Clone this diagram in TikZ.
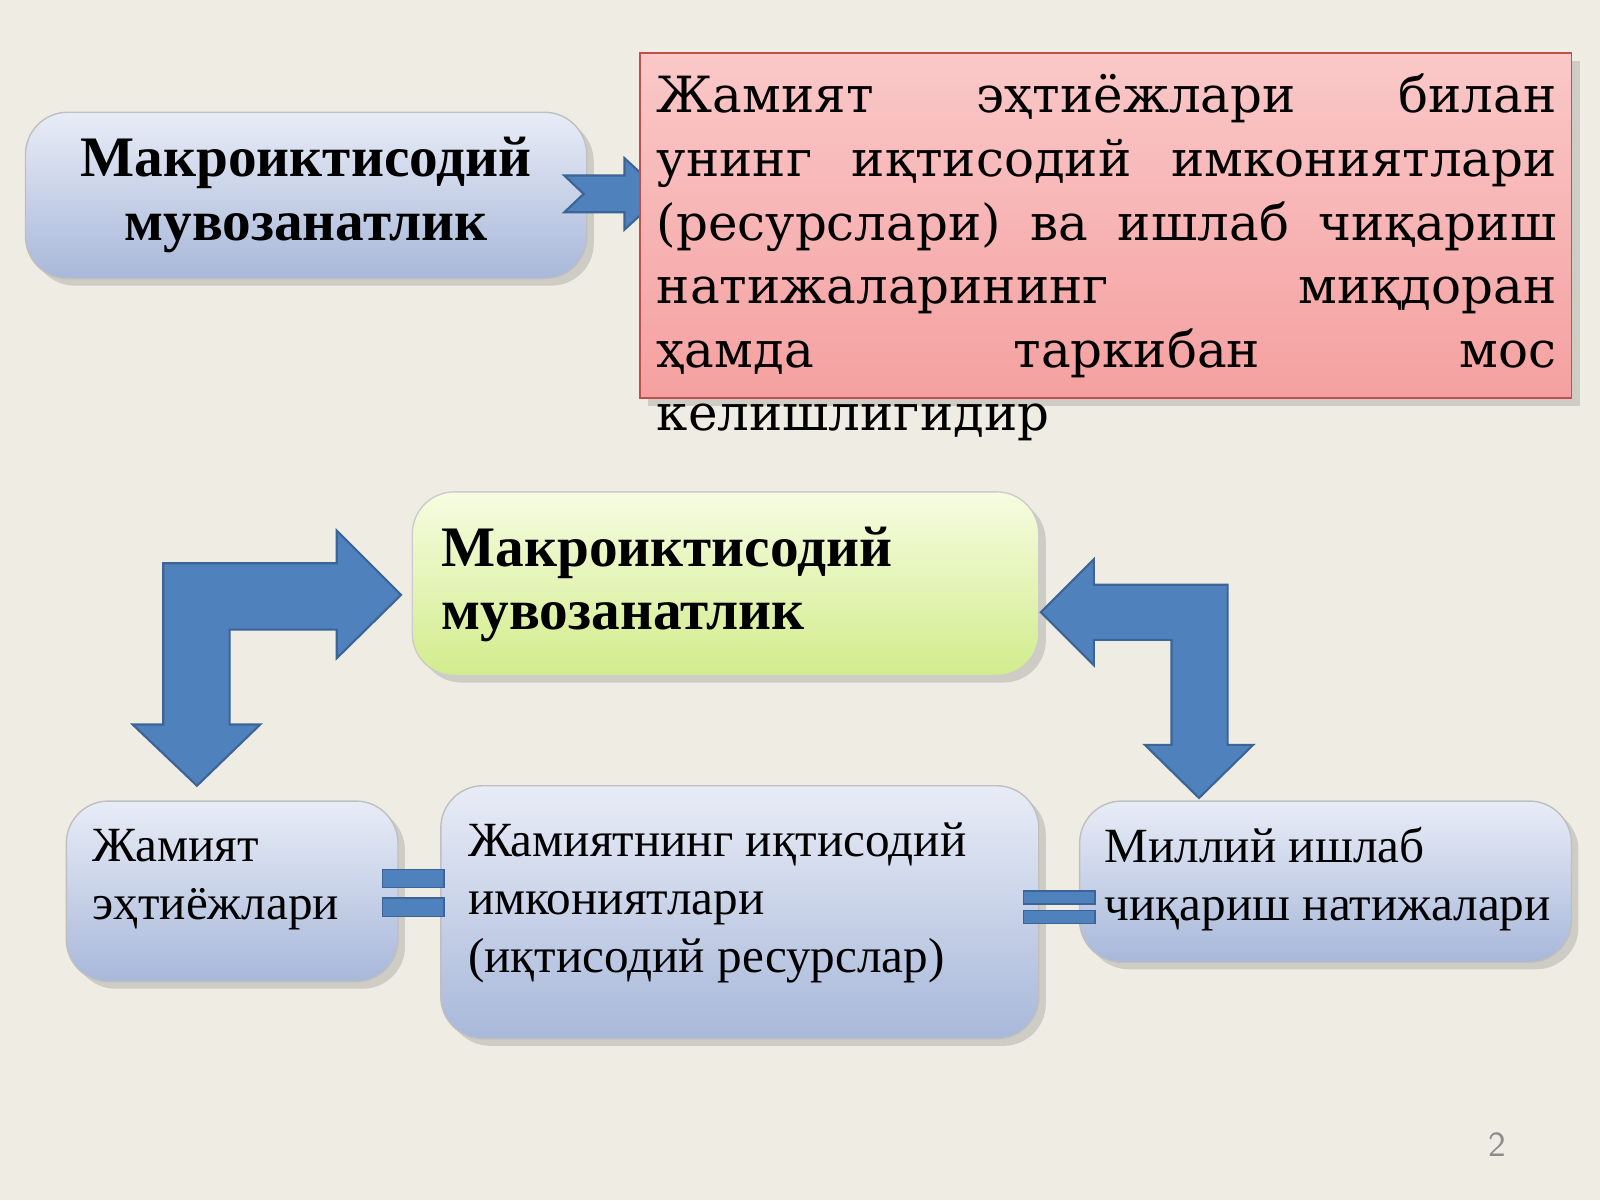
\documentclass[tikz,border=0pt]{standalone}
\usepackage{fontspec}
\setmainfont{Liberation Serif}
\newfontfamily\dvs{DejaVu Serif}
\usetikzlibrary{shadows}
\definecolor{bg}{RGB}{239,237,227}
\definecolor{bbot}{RGB}{168,184,218}
\definecolor{btop}{RGB}{232,236,246}
\definecolor{af}{RGB}{79,129,189}
\definecolor{ad}{RGB}{60,100,150}
\definecolor{rd}{RGB}{192,80,77}
\definecolor{rtop}{RGB}{250,200,200}
\definecolor{rbot}{RGB}{245,160,160}
\definecolor{gtop}{RGB}{246,252,225}
\definecolor{gbot}{RGB}{210,236,140}
\begin{document}
\begin{tikzpicture}[x=0.010204cm,y=-0.010204cm,
  bbox/.style={draw=black!25,rounded corners=12pt,top color=btop,bottom color=bbot,drop shadow={opacity=0.3,shadow xshift=2pt,shadow yshift=-2pt}},
  arr/.style={fill=af,draw=ad,line width=0.6pt},
  eq/.style={fill=af,draw=ad},
  bt/.style={anchor=north west,align=left,inner sep=0pt,font=\fontsize{16.3}{18}\selectfont\bfseries},
  rt/.style={anchor=north west,align=left,inner sep=0pt,font=\fontsize{14}{16.4}\selectfont}]
\fill[bg] (0,0) rectangle (1568,1176);
% top left box
\draw[bbox] (25,110) rectangle (575,273);
\node[align=center,inner sep=0pt,font=\fontsize{16.3}{18}\selectfont\bfseries] (t1) at (300,191) {Макроиктисодий\\мувозанатлик};
% top arrow
\filldraw[arr] (553,172) -- (612,172) -- (612,155) -- (650,190) -- (612,225) -- (612,208) -- (553,208) -- (572,190) -- cycle;
% red box
\draw[draw=rd,top color=rtop,bottom color=rbot,drop shadow={opacity=0.3}] (627,52) rectangle (1540,390);
\node[anchor=north west,inner sep=0pt] (rt) at (643,72) {\parbox{9.0cm}{\dvs\fontsize{14.2}{18.1}\selectfont
Жамият\hfill эҳтиёжлари\hfill билан\\
унинг\hfill иқтисодий\hfill имкониятлари\\
(ресурслари)\hfill ва\hfill ишлаб\hfill чиқариш\\
натижаларининг\hfill миқдоран\\
ҳамда\hfill таркибан\hfill мос\\
келишлигидир}};
% green box
\draw[draw=black!20,rounded corners=12pt,top color=gtop,bottom color=gbot,drop shadow={opacity=0.3,shadow xshift=2pt,shadow yshift=-2pt}] (404,482) rectangle (1018,662);
\node[bt] (g) at (432,516) {Макроиктисодий\\мувозанатлик};
% bent arrows
\filldraw[arr] (160,710) -- (130,710) -- (193,770) -- (255,710) -- (225,710) -- (225,617) -- (330,617) -- (330,645) -- (393,583) -- (330,520) -- (330,552) -- (160,552) -- cycle;
\filldraw[arr] (1020,600) -- (1072,548) -- (1072,573) -- (1203,573) -- (1203,730) -- (1228,730) -- (1175,782) -- (1122,730) -- (1148,730) -- (1148,627) -- (1072,627) -- (1072,652) -- cycle;
% bottom boxes
\draw[bbox] (65,785) rectangle (390,962);
\draw[bbox] (432,770) rectangle (1018,1018);
\draw[bbox] (1058,785) rectangle (1540,943);
\node[rt] (a) at (90,812) {Жамият\\эҳтиёжлари};
\node[rt] (b) at (458,806) {Жамиятнинг иқтисодий\\имкониятлари\\(иқтисодий ресурслар)};
\node[rt] (c) at (1082,810) {Миллий ишлаб\\чиқариш натижалари};
% equals
\filldraw[eq] (375,852) rectangle (435,870);
\filldraw[eq] (375,880) rectangle (435,898);
\filldraw[eq] (1003,873) rectangle (1073,886);
\filldraw[eq] (1003,892) rectangle (1073,905);
\node[text=black!45,font=\sffamily\fontsize{10}{10}\selectfont] (p) at (1467,1122) {2};
\end{tikzpicture}
\end{document}
